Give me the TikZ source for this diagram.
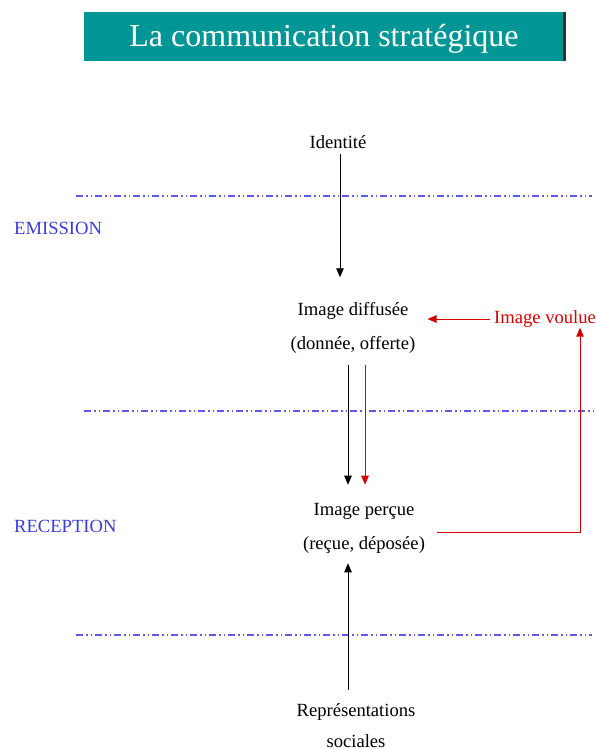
\documentclass[tikz,border=0pt]{standalone}
\usepackage{fontspec}
\setmainfont{Liberation Serif}
\usepackage{tikz}
\usetikzlibrary{arrows.meta}
\definecolor{titleteal}{RGB}{0,150,150}
\definecolor{edgegray}{RGB}{40,50,55}
\definecolor{zoneblue}{RGB}{60,60,220}
\definecolor{lineblue}{RGB}{90,90,235}
\definecolor{voulred}{RGB}{210,0,0}

\tikzset{
  txt/.style={font=\fontsize{18.6}{34}\selectfont, align=center, inner xsep=12pt, inner ysep=0pt},
  zone/.style={text=zoneblue, font=\fontsize{18.6}{22}\selectfont, anchor=west, inner sep=0pt},
  sepline/.style={draw=lineblue, line width=1.2pt, dash pattern=on 7pt off 3pt on 1.5pt off 3pt on 1.5pt off 3pt},
  arr/.style={-{Triangle[length=9pt,width=7.5pt]}, line width=0.9pt},
}

\begin{document}
\begin{tikzpicture}[x=1pt, y=-1pt]
    \useasboundingbox (0,0) rectangle (595,749);

    % Title banner
    \fill[edgegray] (562,12) rectangle (565.5,61);
    \fill[titleteal] (84,12) rectangle (562.5,61);
    \node[text=white, inner sep=0pt, font=\fontsize{32}{36}\selectfont] (titre) at (324,39) {La communication stratégique};

    % Separating lines
    \foreach \y/\xa/\xb in {196/76/592, 411/84/595, 635/76/592}
        \draw[sepline] (\xa,\y) -- (\xb,\y);

    % Zone labels
    \node[zone] (emission) at (14,228) {EMISSION};
    \node[zone] (reception) at (14,526) {RECEPTION};

    % Blocks
    \node[txt] (identite) at (338,142) {Identité};
    \node[txt, inner ysep=11pt] (diffusee) at (353,328) {Image diffusée\\(donnée, offerte)};
    \node[txt, text=voulred, inner xsep=4pt] (voulue) at (545,319) {Image voulue};
    \node[txt, inner ysep=14pt] (percue) at (364,528) {Image perçue\\(reçue, déposée)};
    \node[txt, font=\fontsize{18.6}{31}\selectfont] (repres) at (356,726) {Représentations\\sociales};
    \coordinate (coin) at (580,532);

    % Arrows
    \draw[arr, shorten >=14pt] ([xshift=2pt, yshift=-5pt]identite.south) -- ([xshift=2pt]identite.south |- diffusee.north);
    \draw[arr, voulred] (voulue.west) -- (voulue.west -| diffusee.east);
    \draw[arr, shorten >=4pt] ([xshift=-5pt]diffusee.south) -- ([xshift=-5pt]diffusee.south |- percue.north);
    \draw[arr, voulred, shorten >=4pt] ([xshift=12pt]diffusee.south) -- ([xshift=12pt]diffusee.south |- percue.north);
    \draw[arr, voulred] (percue.east |- coin) -- (coin) -- (coin |- voulue.south);
    \draw[arr, shorten >=-4pt] ([xshift=-8pt, yshift=14pt]repres.north) -- ([xshift=-8pt]repres.north |- percue.south);
\end{tikzpicture}
\end{document}
